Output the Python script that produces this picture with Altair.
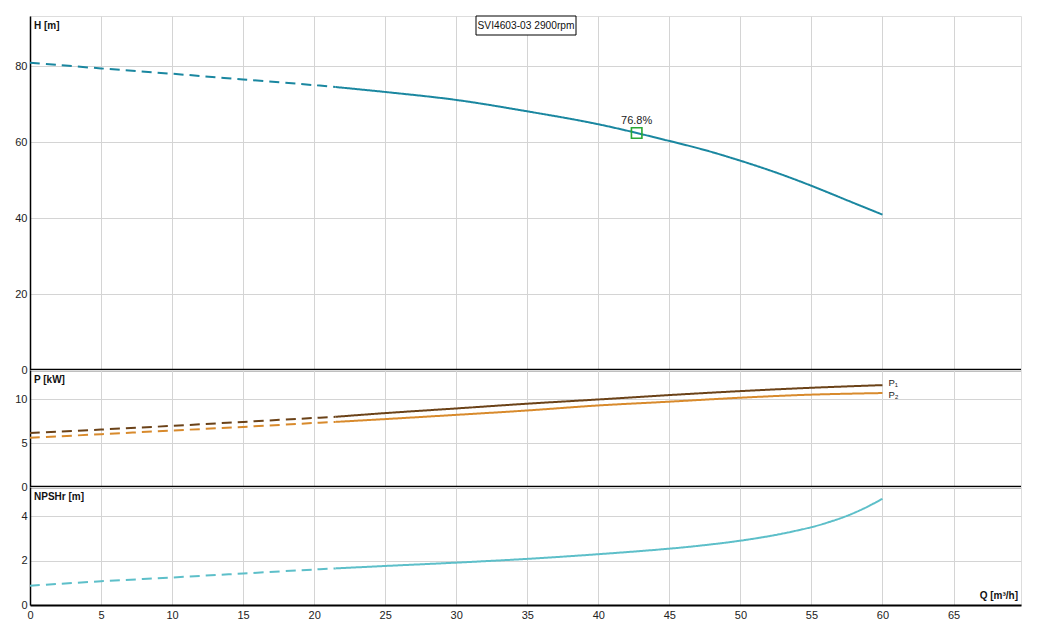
import altair as alt
import pandas as pd

# ---- data ----
Q_H = [0, 5, 10, 15, 20, 21.5, 25, 30, 35, 40, 45, 47.5, 50, 52.5, 55, 57.5, 60]
H = [80.9, 79.4, 78.0, 76.5, 75.0, 74.5, 73.2, 71.1, 68.1, 64.7, 60.3, 57.9, 55.1, 52.0, 48.5, 44.7, 40.9]

Q_P = [0, 5, 10, 15, 20, 21.5, 25, 30, 35, 40, 45, 50, 55, 60]
P1 = [6.15, 6.53, 6.95, 7.4, 7.85, 7.98, 8.4, 8.93, 9.47, 9.95, 10.45, 10.9, 11.28, 11.58]
P2 = [5.6, 6.0, 6.42, 6.83, 7.28, 7.4, 7.72, 8.2, 8.7, 9.27, 9.7, 10.15, 10.5, 10.68]

Q_N = [0, 5, 10, 15, 20, 21.5, 25, 30, 35, 40, 45, 47.5, 50, 52.5, 55, 56.25, 57.5, 58.75, 60]
NPSH = [0.87, 1.07, 1.24, 1.42, 1.6, 1.65, 1.76, 1.91, 2.08, 2.29, 2.54, 2.7, 2.9, 3.16, 3.51, 3.74, 4.02, 4.37, 4.79]

Q_SPLIT = 21.5
EFF_Q, EFF_H, EFF_LABEL = 42.7, 62.4, "76.8%"
TITLE = "SVI4603-03 2900rpm"

Q_TICKS = [0, 5, 10, 15, 20, 25, 30, 35, 40, 45, 50, 55, 60, 65]
H_TICKS = [0, 20, 40, 60, 80]
P_TICKS = [0, 5, 10]
N_TICKS = [0, 2, 4]

FONT = "Liberation Sans"
W = 991
GRID = "#d4d4d4"


def split(q, v):
    rows = []
    for a, b in zip(q, v):
        if a <= Q_SPLIT:
            rows.append({"Q": a, "v": b, "part": "dash"})
        if a >= Q_SPLIT:
            rows.append({"Q": a, "v": b, "part": "solid"})
    return pd.DataFrame(rows)


def xenc(bottom=False):
    if bottom:
        ax = alt.Axis(values=Q_TICKS, title=None, ticks=False, labelFlush=False,
                      labelPadding=4, labelFontSize=11, labelColor="#222", labelFont=FONT,
                      domainColor="black", domainWidth=2, gridColor=GRID)
    else:
        ax = alt.Axis(values=Q_TICKS, title=None, ticks=False, labels=False, domain=False,
                      minExtent=0, maxExtent=0, labelPadding=0, gridColor=GRID)
    return alt.X("Q:Q", scale=alt.Scale(domain=[0, 69.75], nice=False, zero=False), axis=ax)


def yenc(dom, ticks):
    return alt.Y("v:Q", scale=alt.Scale(domain=dom, nice=False, zero=False),
                 axis=alt.Axis(values=ticks, title=None, ticks=False, labelPadding=3,
                               labelFontSize=11, labelColor="#222", labelFont=FONT,
                               minExtent=21, maxExtent=21, labelOverlap=False,
                               domainColor="black", domainWidth=1.5, gridColor=GRID))


def dash_scale(d):
    return alt.StrokeDash("part:N", scale=alt.Scale(domain=["dash", "solid"], range=[d, [1, 0]]), legend=None)


def curve(df, color, dom, ticks, d, bottom=False):
    return alt.Chart(df).mark_line(color=color, strokeWidth=2, interpolate="catmull-rom").encode(
        x=xenc(bottom), y=yenc(dom, ticks), strokeDash=dash_scale(d), detail="part:N")


def label(txt, x, y, align="left", baseline="top"):
    return alt.Chart(pd.DataFrame({"t": [txt]})).mark_text(
        align=align, baseline=baseline, fontWeight="bold", fontSize=10, font=FONT, color="#111"
    ).encode(x=alt.value(x), y=alt.value(y), text="t:N")


def sep(h):
    # thick separator line along the bottom edge of a panel
    return alt.Chart(pd.DataFrame({"t": [0]})).mark_rule(color="black", strokeWidth=2.5).encode(
        x=alt.value(0), x2=alt.value(W), y=alt.value(h))


H_DOM = [0, 93.2]
P_DOM = [0, 13.3]
N_DOM = [0, 5.32]

# top panel
h_line = curve(split(Q_H, H), "#1a87a0", H_DOM, H_TICKS, [10, 6])
eff_df = pd.DataFrame({"Q": [EFF_Q], "v": [EFF_H], "t": [EFF_LABEL]})
eff_pt = alt.Chart(eff_df).mark_point(shape="square", filled=False, size=110, strokeWidth=1.6,
                                      color="#2aa834", opacity=1).encode(x=xenc(), y=yenc(H_DOM, H_TICKS))
eff_txt = alt.Chart(eff_df).mark_text(dy=-12, fontSize=11, font=FONT, color="#222").encode(
    x=xenc(), y=yenc(H_DOM, H_TICKS), text="t:N")
tbox = alt.Chart(pd.DataFrame({"t": [TITLE]})).mark_rect(fill="white", stroke="black", strokeWidth=1).encode(
    x=alt.value(446), x2=alt.value(546), y=alt.value(0), y2=alt.value(19))
ttxt = alt.Chart(pd.DataFrame({"t": [TITLE]})).mark_text(fontSize=10.2, font=FONT, color="#111",
                                                        baseline="middle").encode(
    x=alt.value(496), y=alt.value(10), text="t:N")
top = alt.layer(h_line, eff_pt, eff_txt, tbox, ttxt, label("H [m]", 4, 5), sep(354)
                ).properties(width=W, height=354)

# power panel
p1 = curve(split(Q_P, P1), "#6b4218", P_DOM, P_TICKS, [8, 5])
p2 = curve(split(Q_P, P2), "#d88a2c", P_DOM, P_TICKS, [8, 5])
plab1 = alt.Chart(pd.DataFrame({"Q": [Q_P[-1]], "v": [P1[-1]], "t": ["P₁"]})).mark_text(
    align="left", baseline="bottom", dx=6, dy=3, fontSize=9.5, font=FONT, color="#222").encode(
    x=xenc(), y=yenc(P_DOM, P_TICKS), text="t:N")
plab2 = alt.Chart(pd.DataFrame({"Q": [Q_P[-1]], "v": [P2[-1]], "t": ["P₂"]})).mark_text(
    align="left", baseline="top", dx=6, dy=-3, fontSize=9.5, font=FONT, color="#222").encode(
    x=xenc(), y=yenc(P_DOM, P_TICKS), text="t:N")
mid = alt.layer(p1, p2, plab1, plab2, label("P [kW]", 4, 5), sep(117)).properties(width=W, height=117)

# NPSH panel
n_line = curve(split(Q_N, NPSH), "#5dbfc9", N_DOM, N_TICKS, [8, 6], bottom=True)
bot = alt.layer(n_line, label("NPSHr [m]", 4, 5), label("Q [m³/h]", W - 3, 114, align="right", baseline="bottom")
                ).properties(width=W, height=118)

chart = alt.vconcat(top, mid, bot, spacing=0, bounds="flush").properties(
    padding={"left": 0, "top": 7, "right": 5, "bottom": 2}
).configure_view(stroke="black", strokeWidth=1).configure(font=FONT)

chart.save("out.html", embed_options={"renderer": "svg", "actions": False})
